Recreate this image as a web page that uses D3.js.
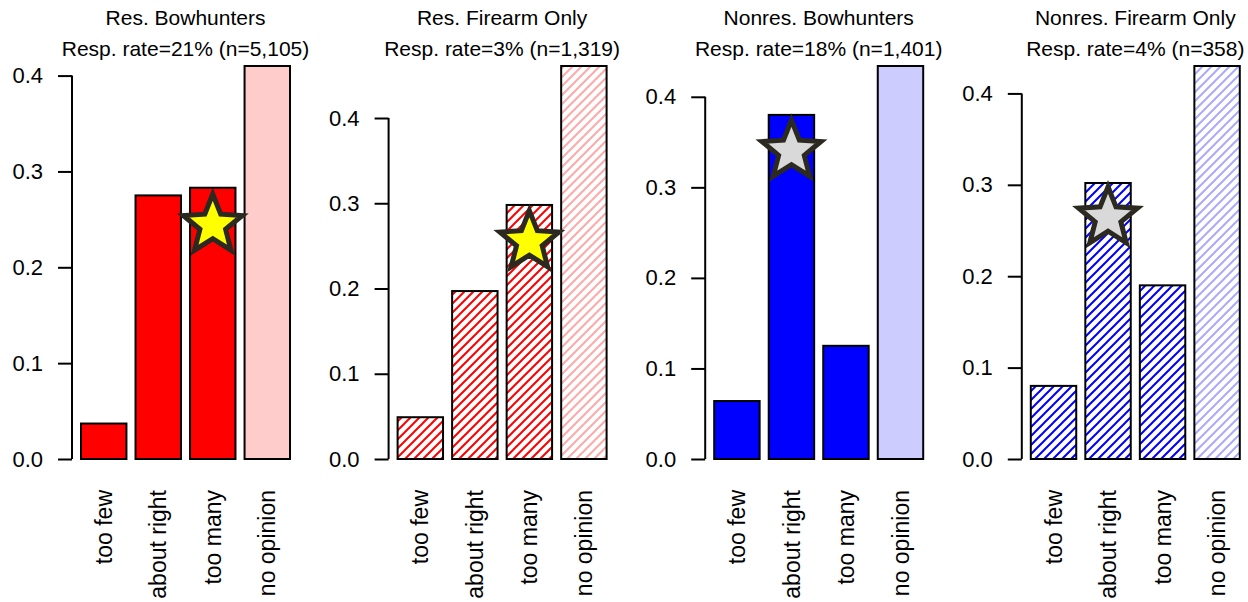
<!DOCTYPE html>
<html>
<head>
<meta charset="utf-8">
<script src="https://cdn.jsdelivr.net/npm/d3@7"></script>
<style>
  body { margin: 0; background: white; }
  svg text { font-family: "Liberation Sans", Arial, sans-serif; fill: black; }
</style>
</head>
<body>
<div id="chart"></div>
<script>
// Data
const categories = ["too few", "about right", "too many", "no opinion"];
const panelTitles = ["Res. Bowhunters", "Res. Firearm Only", "Nonres. Bowhunters", "Nonres. Firearm Only"];
const panelSubtitles = ["Resp. rate=21% (n=5,105)", "Resp. rate=3% (n=1,319)", "Resp. rate=18% (n=1,401)", "Resp. rate=4% (n=358)"];
const resBowValues = [0.037, 0.275, 0.283, 0.410];
const resFirearmValues = [0.049, 0.197, 0.298, 0.461];
const nonresBowValues = [0.064, 0.380, 0.125, 0.434];
const nonresFirearmValues = [0.080, 0.302, 0.190, 0.430];
const starValues = [0.244, 0.255, 0.340, 0.264]; // star marker value per panel
const starCategories = ["too many", "too many", "about right", "about right"];
const yTicks = [0, 0.1, 0.2, 0.3, 0.4];

const panels = [
  { values: resBowValues, color: "#ff0000", light: "#ffcccc", hatch: false, starFill: "#ffff00" },
  { values: resFirearmValues, color: "#ff0000", light: "#ffaaaa", hatch: true, starFill: "#ffff00" },
  { values: nonresBowValues, color: "#0000ff", light: "#ccccff", hatch: false, starFill: "#d9d9d9" },
  { values: nonresFirearmValues, color: "#0000ff", light: "#aaaaff", hatch: true, starFill: "#d9d9d9" }
];

const width = 1248, height = 602;
const panelStep = 316.6;
const axisLeft = 72;
const plotTop = 66, plotBottom = 459;

const svg = d3.select("#chart").append("svg")
  .attr("width", width)
  .attr("height", height);

// hatch patterns (one per colour)
const defs = svg.append("defs");
function hatchPattern(id, color) {
  const p = defs.append("pattern")
    .attr("id", id)
    .attr("patternUnits", "userSpaceOnUse")
    .attr("width", 9)
    .attr("height", 9);
  p.append("rect").attr("width", 9).attr("height", 9).attr("fill", "white");
  p.append("path")
    .attr("d", "M-1,1 l2,-2 M0,9 l9,-9 M8,10 l2,-2")
    .attr("stroke", color)
    .attr("stroke-width", 2);
}
hatchPattern("hatch-red", "#ff0000");
hatchPattern("hatch-red-light", "#ffaaaa");
hatchPattern("hatch-blue", "#0000ff");
hatchPattern("hatch-blue-light", "#aaaaff");

// star path centred at 0,0
function starPath(R, r) {
  const pts = [];
  for (let i = 0; i < 10; i++) {
    const a = -Math.PI / 2 + i * Math.PI / 5;
    const rad = i % 2 === 0 ? R : r;
    pts.push([rad * Math.cos(a), rad * Math.sin(a)]);
  }
  return "M" + pts.map(p => p.join(",")).join("L") + "Z";
}

panels.forEach((panel, i) => {
  const x0 = axisLeft + i * panelStep;
  const g = svg.append("g");

  const x = d3.scaleBand()
    .domain(categories)
    .range([x0 + 9, x0 + 218])
    .paddingInner(1 / 6)
    .paddingOuter(0);

  const y = d3.scaleLinear()
    .domain([0, d3.max(panel.values)])
    .range([plotBottom, plotTop]);

  // y axis
  const yAxis = d3.axisLeft(y)
    .tickValues(yTicks)
    .tickSize(14)
    .tickPadding(15)
    .tickFormat(d3.format(".1f"));
  const ag = g.append("g")
    .attr("transform", `translate(${x0},0)`)
    .call(yAxis);
  ag.select(".domain").remove();
  ag.append("line")
    .attr("y1", y(0)).attr("y2", y(0.4))
    .attr("stroke", "black").attr("stroke-width", 2);
  ag.selectAll(".tick line").attr("stroke", "black").attr("stroke-width", 2);
  ag.selectAll(".tick text")
    .style("font-size", "22px")
    .style("font-family", "'Liberation Sans', Arial, sans-serif")
    .attr("fill", "black");

  // bars
  const colorName = panel.color === "#ff0000" ? "red" : "blue";
  g.selectAll("rect.bar")
    .data(categories.map((c, j) => ({ cat: c, value: panel.values[j] })))
    .join("rect")
    .attr("class", "bar")
    .attr("x", d => x(d.cat))
    .attr("width", x.bandwidth())
    .attr("y", d => y(d.value))
    .attr("height", d => y(0) - y(d.value))
    .attr("fill", d => {
      const last = d.cat === "no opinion";
      if (panel.hatch) return last ? `url(#hatch-${colorName}-light)` : `url(#hatch-${colorName})`;
      return last ? panel.light : panel.color;
    })
    .attr("stroke", "black")
    .attr("stroke-width", 2);

  // star marker
  g.append("path")
    .attr("d", starPath(31, 13.5))
    .attr("transform", `translate(${x(starCategories[i]) + x.bandwidth() / 2},${y(starValues[i])})`)
    .attr("fill", panel.starFill)
    .attr("stroke", "#2b2920")
    .attr("stroke-width", 5)
    .attr("stroke-linejoin", "miter");

  // category labels
  g.selectAll("text.cat")
    .data(categories)
    .join("text")
    .attr("class", "cat")
    .attr("transform", d => `translate(${x(d) + x.bandwidth() / 2},490) rotate(-90)`)
    .attr("text-anchor", "end")
    .attr("dy", "0.35em")
    .style("font-size", "23px")
    .text(d => d);

  // titles
  const cx = (x.range()[0] + x.range()[1]) / 2;
  g.append("text")
    .attr("x", cx).attr("y", 25)
    .attr("text-anchor", "middle")
    .style("font-size", "21px")
    .text(panelTitles[i]);
  g.append("text")
    .attr("x", cx).attr("y", 56)
    .attr("text-anchor", "middle")
    .style("font-size", "21px")
    .text(panelSubtitles[i]);
});
</script>
</body>
</html>
